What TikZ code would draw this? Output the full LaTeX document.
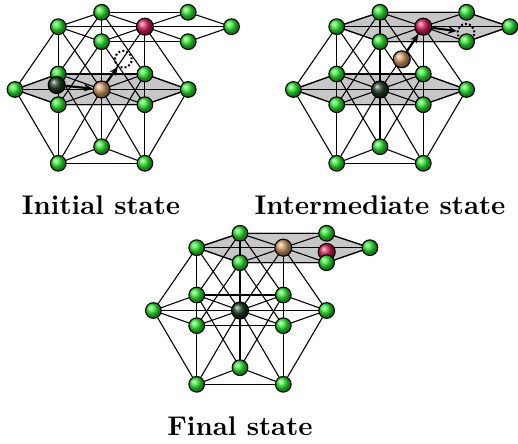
\documentclass[tikz,border=0pt]{standalone}
\usepackage{tikz}
\usetikzlibrary{arrows.meta,shapes,positioning}
\definecolor{atomgreen}{RGB}{40,230,40}
\definecolor{atomdark}{RGB}{25,60,30}
\definecolor{atombrown}{RGB}{205,150,95}
\definecolor{atomred}{RGB}{210,25,85}
\tikzstyle{bond} = [black, line width=0.4pt]
\tikzstyle{layer} = [fill=black!22, draw=black!70, line width=0.5pt]
\tikzstyle{atom} = [circle, draw=black, line width=0.4pt, shading=ball, ball color=atomgreen, minimum size=5.8pt, inner sep=0pt]
\tikzstyle{bigatom} = [atom, minimum size=6.3pt]
\tikzstyle{hole} = [circle, draw=black, dash pattern=on 0.7pt off 0.8pt, line width=0.75pt, minimum size=6.2pt, inner sep=0pt]
\tikzstyle{arrow} = [line width=0.8pt,-{Stealth[length=3.2pt,width=2.8pt]}]
\tikzstyle{caption} = [font=\bfseries, anchor=base]

\begin{document}
\begin{tikzpicture}[x=0.37pt, y=-0.37pt]
\useasboundingbox (0,0) rectangle (518,444);

% Lattice sites of the three panels
\foreach \p/\dx/\dy in {i/0/0, m/278.4/0, f/138.4/221} {
  \begin{scope}[shift={(\dx,\dy)}]
    % upper layer
    \coordinate (\p-T1) at (101.6,12.3);
    \coordinate (\p-T2) at (58.3,26.7);
    \coordinate (\p-T3) at (144.9,26.7);
    \coordinate (\p-T4) at (101.6,41.7);
    \coordinate (\p-E1) at (188.2,12.3);
    \coordinate (\p-E2) at (188.2,41.7);
    \coordinate (\p-E3) at (231.5,26.7);
    % middle layer
    \coordinate (\p-M0) at (101.6,89.5);
    \coordinate (\p-ML) at (15,89.5);
    \coordinate (\p-MR) at (188.2,89.5);
    \coordinate (\p-MUL) at (58.3,74);
    \coordinate (\p-MUR) at (144.9,74);
    \coordinate (\p-MDL) at (58.3,104.7);
    \coordinate (\p-MDR) at (144.9,104.7);
    % lower layer
    \coordinate (\p-B1) at (58.3,163.3);
    \coordinate (\p-B2) at (101.6,146.7);
    \coordinate (\p-B3) at (144.9,163.3);
  \end{scope}
}

% Shaded planes
\draw[layer] (i-ML) -- (i-MUL) -- (i-MUR) -- (i-MR) -- (i-MDR) -- (i-MDL) -- cycle;
\draw[layer] (m-ML) -- (m-MUL) -- (m-MUR) -- (m-MR) -- (m-MDR) -- (m-MDL) -- cycle;
\draw[layer] (m-T2) -- (m-T1) -- (m-E1) -- (m-E3) -- (m-E2) -- (m-T4) -- cycle;
\draw[layer] (f-T2) -- (f-T1) -- (f-E1) -- (f-E3) -- (f-E2) -- (f-T4) -- cycle;

% Bonds
\foreach \p in {i,m,f} {
  \foreach \a/\b in {T2/T1, T1/E1, E1/E3, E3/E2, E2/T4, T4/T2,
                     T3/T2, T3/T1, T3/E1, T3/E3, T3/E2, T3/T4,
                     ML/MUL, MUL/MUR, MUR/MR, MR/MDR, MDR/MDL, MDL/ML,
                     M0/ML, M0/MUL, M0/MUR, M0/MR, M0/MDR, M0/MDL,
                     B1/B2, B2/B3, B1/B3,
                     T1/M0, T1/MUL, T1/MUR, T2/M0, T2/ML, T2/MDL,
                     T3/M0, T3/MR, T3/MDR, T4/MDL, T4/MDR,
                     B1/M0, B1/ML, B1/MDL, B2/M0, B2/MUL, B2/MUR,
                     B3/M0, B3/MR, B3/MDR}
    \draw[bond] (\p-\a) -- (\p-\b);
}

% Host atoms
\foreach \p in {i,m,f} {
  \foreach \s in {T1,T2,T4,E1,E3,ML,MUL,MUR,MR,MDL,MDR,B2,B1,B3}
    \node (\p-\s-ball) [atom] at (\p-\s) {};
}

% Initial state
\node (i-dark) [bigatom, ball color=atomdark] at (56.7,85) {};
\node (i-brown) [bigatom, ball color=atombrown] at (i-M0) {};
\node (i-red) [bigatom, ball color=atomred] at (i-T3) {};
\node (i-hole) [hole] at (123.3,59.3) {};

% Intermediate state
\node (m-dark) [bigatom, ball color=atomdark] at (m-M0) {};
\node (m-brown) [bigatom, ball color=atombrown] at (401.7,59.3) {};
\node (m-red) [bigatom, ball color=atomred] at (m-T3) {};
\node (m-hole) [hole] at (466,32.3) {};

% Final state
\node (f-dark) [bigatom, ball color=atomdark] at (f-M0) {};
\node (f-brown) [bigatom, ball color=atombrown] at (f-T3) {};
\node (f-red) [bigatom, ball color=atomred] at (326.7,252) {};

% front atoms
\foreach \p in {i,m,f}
  \node (\p-E2-ball) [atom] at (\p-E2) {};

% Jumps
\draw[arrow] (i-dark) -- (i-brown);
\draw[arrow] (i-brown) -- (i-hole);
\draw[arrow] (m-brown) -- (m-red);
\draw[arrow] (m-red) -- (m-hole);

% Captions
\node (i-label) [caption] at (101,215) {Initial state};
\node (m-label) [caption] at (380,215) {Intermediate state};
\node (f-label) [caption] at (240,436) {Final state};
\end{tikzpicture}
\end{document}
